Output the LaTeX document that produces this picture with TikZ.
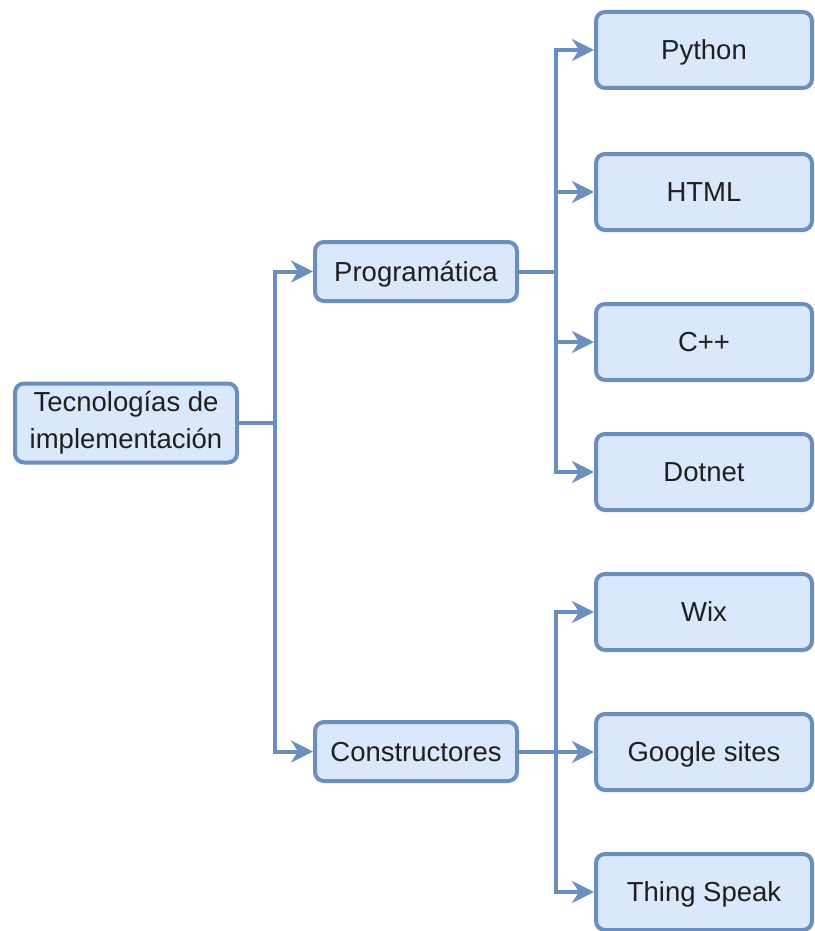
\documentclass[tikz,border=0pt]{standalone}
\usepackage{fontspec}
\setmainfont{Liberation Sans}
\usetikzlibrary{arrows.meta}
\definecolor{boxfill}{HTML}{DAE8FC}
\definecolor{boxline}{HTML}{6C8EBF}
\begin{document}
\begin{tikzpicture}[x=1pt,y=-1pt,
  box/.style={draw=boxline, fill=boxfill, line width=4pt, rounded corners=9pt,
    inner sep=0pt, align=center, font=\fontsize{27.5}{37}\selectfont, text=black!88},
  leaf/.style={box, minimum width=216pt, minimum height=76pt, text depth=0pt},
  mid/.style={box, minimum width=202pt, minimum height=59pt, text depth=0pt},
  conn/.style={draw=boxline, line width=4pt, -{Stealth[length=22pt,width=22pt,inset=7pt]}}]
\useasboundingbox (0,0) rectangle (814,931);
\node[box, minimum width=222pt, minimum height=79pt] (root) at (126,423) {Tecnologías de\\implementación};
\node[mid] (prog) at (416,271.5) {Programática};
\node[mid] (cons) at (416,751.5) {Constructores};
\node[leaf] (py) at (704,50) {Python};
\node[leaf] (html) at (704,192) {HTML};
\node[leaf] (cpp) at (704,342) {C++};
\node[leaf] (dot) at (704,472) {Dotnet};
\node[leaf] (wix) at (704,612) {Wix};
\node[leaf] (gs) at (704,752) {Google sites};
\node[leaf] (ts) at (704,892) {Thing Speak};
\coordinate (j1) at (275,0);
\coordinate (j2) at (556,0);
\foreach \c in {prog,cons}
  \draw[conn] (root.east) -- (root.east -| j1) |- (\c.west);
\foreach \c in {py,html,cpp,dot}
  \draw[conn] (prog.east) -- (prog.east -| j2) |- (\c.west);
\foreach \c in {wix,gs,ts}
  \draw[conn] (cons.east) -- (cons.east -| j2) |- (\c.west);
\end{tikzpicture}
\end{document}
